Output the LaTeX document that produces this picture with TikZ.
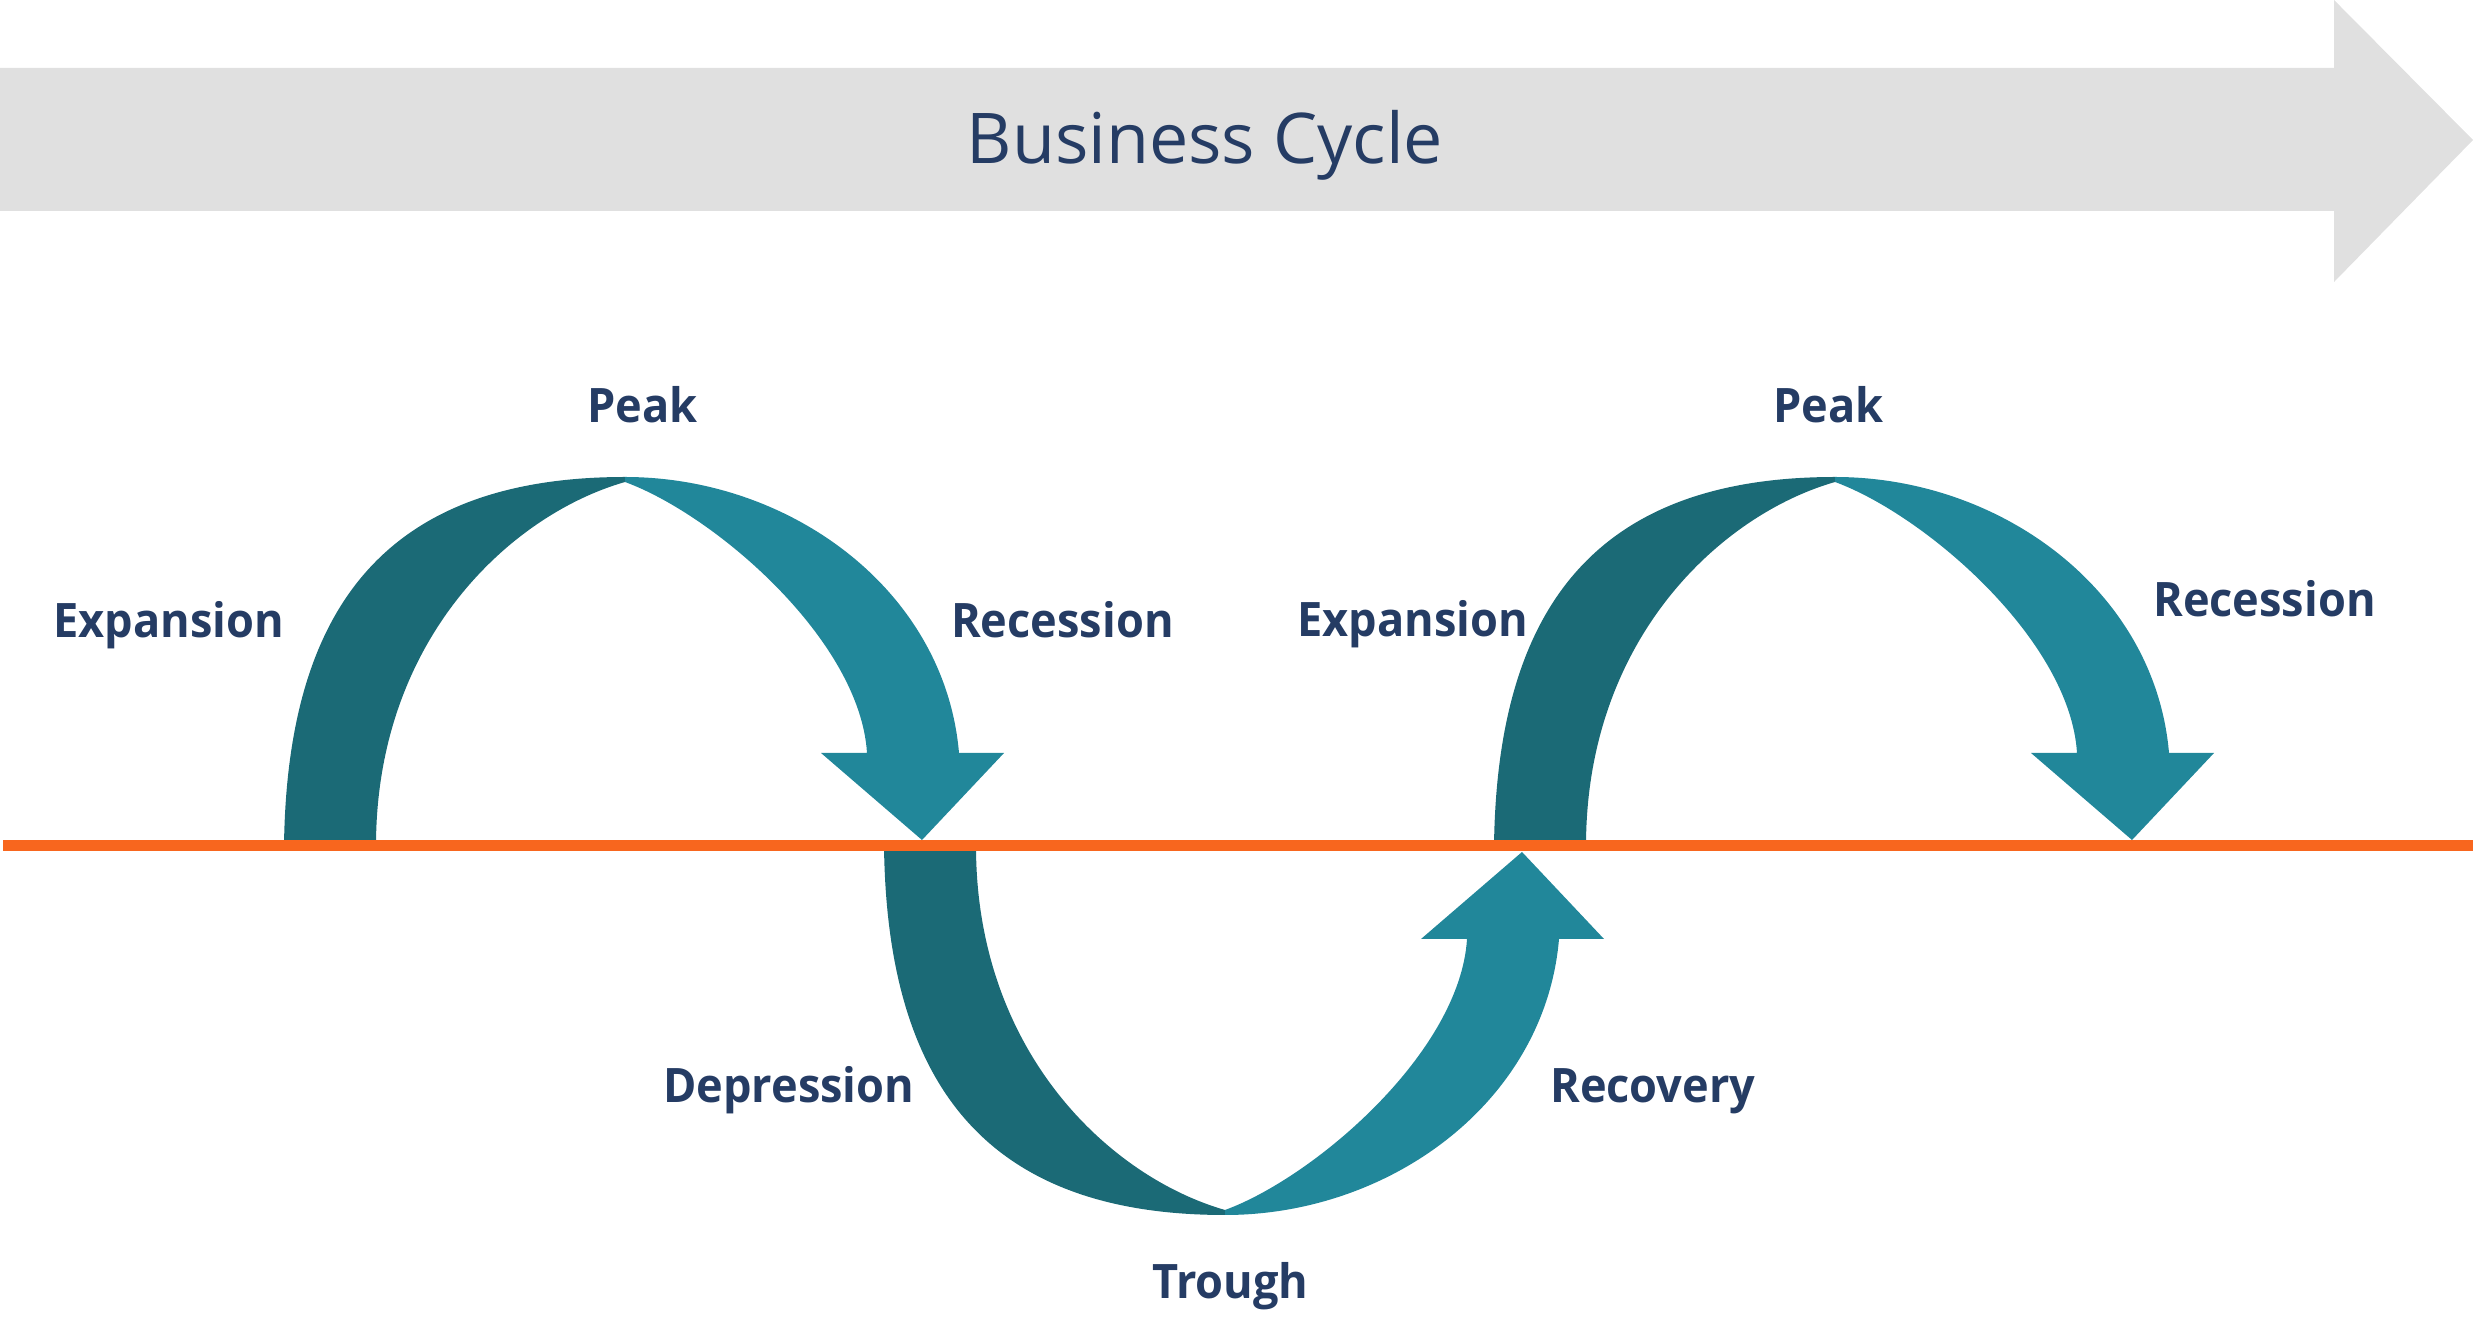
\documentclass[tikz,border=0pt]{standalone}
\usepackage{fontspec}
\setmainfont{Open Sans}
\newfontfamily\labfont{Open Sans}[FakeStretch=0.95]
\definecolor{bandgray}{HTML}{E0E0E0}
\definecolor{tealdark}{HTML}{1B6A76}
\definecolor{teallight}{HTML}{21879A}
\definecolor{lineorange}{HTML}{F8661E}
\definecolor{navy}{HTML}{253C64}
\tikzset{
  lab/.style={font=\labfont\bfseries\fontsize{47.5}{52}\selectfont, text=navy, inner sep=0pt, anchor=base west},
  titletext/.style={font=\fontsize{70}{80}\selectfont, text=navy, inner sep=0pt, anchor=base},
  darkpart/.style={fill=tealdark},
  lightpart/.style={fill=teallight},
  baseline/.style={draw=lineorange, line width=11pt},
}
\newcommand{\wavearrow}{%
  \fill[darkpart] (-341,0) .. controls (-338,240) and (-238,369) .. (0,369)
     -- (0,364) .. controls (-115,331) and (-249,206) .. (-249,0) -- cycle;
  \fill[lightpart] (0,369) .. controls (165,369) and (320,256) .. (334,93)
     -- (379,93) -- (297,6) -- (196,93) -- (242,93)
     .. controls (235,206) and (90,331) .. (0,364) -- cycle;
}
\begin{document}
\begin{tikzpicture}[x=1pt,y=1pt]
\useasboundingbox (0,0) rectangle (2473,1317);
% top band arrow
\fill[bandgray] (0,1106) -- (2334,1106) -- (2334,1035) -- (2473,1177) -- (2334,1317) -- (2334,1249) -- (0,1249) -- cycle;
\node[titletext] (title) at (1205,1153) {Business Cycle};
% centres
\coordinate (peakA) at (625,471);
\coordinate (trough) at (1225,471);
\coordinate (peakB) at (1835,471);
\begin{scope}[shift={(peakA)}] \wavearrow \end{scope}
\begin{scope}[shift={(trough)}, yscale=-1] \wavearrow \end{scope}
\begin{scope}[shift={(peakB)}] \wavearrow \end{scope}
% baseline
\coordinate (lineL) at (3,471);
\coordinate (lineR) at (2473,471);
\draw[baseline] (lineL) -- (lineR);
% labels
\node[lab] (peak1) at (587,894) {Peak};
\node[lab] (peak2) at (1773,894) {Peak};
\node[lab] (exp1) at (53,679) {Expansion};
\node[lab] (rec1) at (951,679) {Recession};
\node[lab] (exp2) at (1297,680) {Expansion};
\node[lab] (rec2) at (2153,700) {Recession};
\node[lab] (dep) at (663,214) {Depression};
\node[lab] (recov) at (1550,214) {Recovery};
\node[lab] (trgh) at (1152,19) {Trough};
\end{tikzpicture}
\end{document}
